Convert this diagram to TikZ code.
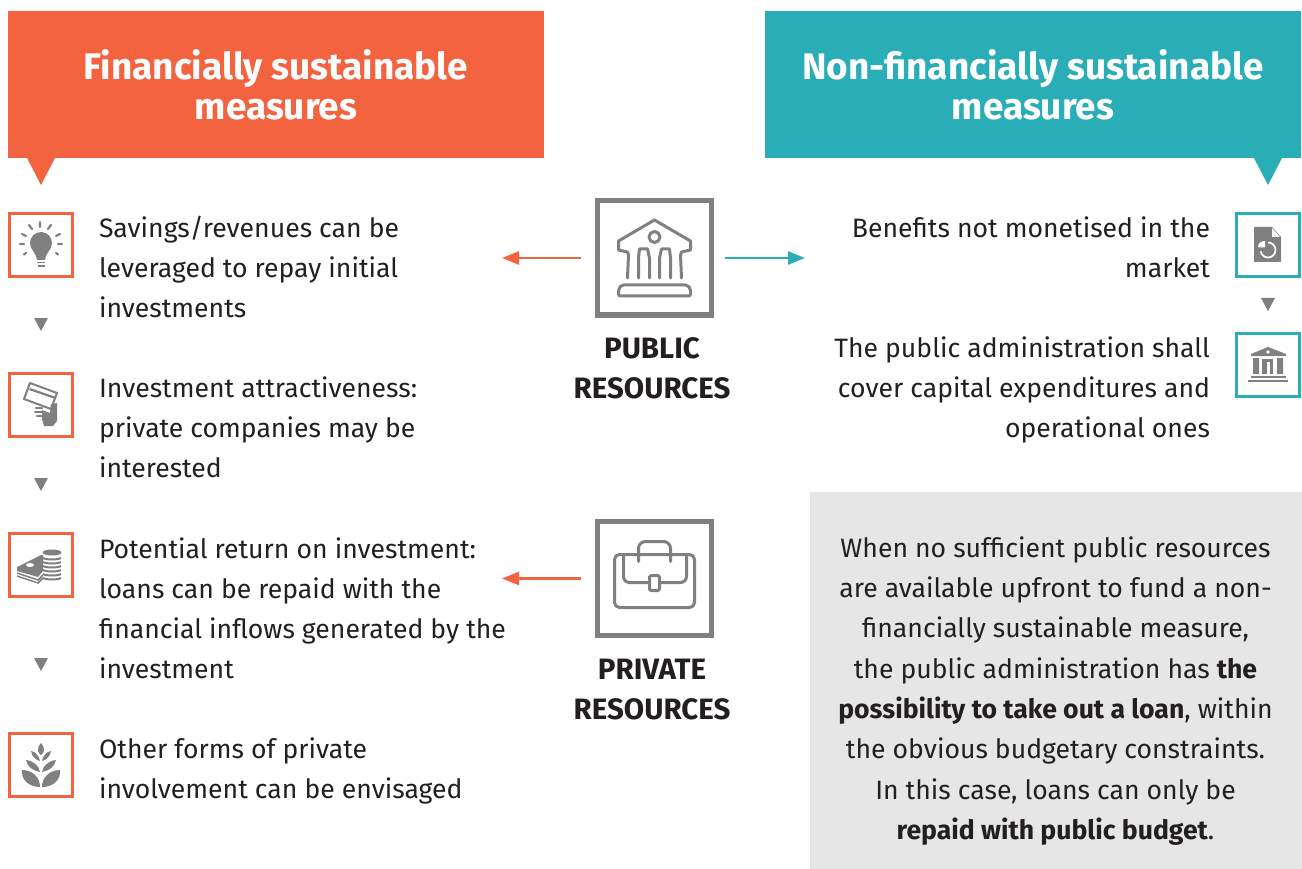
\documentclass[tikz,border=0pt]{standalone}
\usepackage{fontspec}
\setmainfont{Fira Sans}
\usetikzlibrary{arrows.meta}
\definecolor{fincol}{HTML}{F4633F}
\definecolor{nonfincol}{HTML}{29ADB6}
\definecolor{iconcol}{HTML}{808080}
\definecolor{inkcol}{HTML}{231F20}
\definecolor{panelcol}{HTML}{E6E6E6}
\tikzset{
	head/.style={minimum width=536pt, minimum height=147pt, inner sep=0pt, outer sep=0pt, text=white, align=center, font=\fontsize{37}{40}\selectfont\bfseries},
	body/.style={inner sep=0pt, outer sep=0pt, text=inkcol, font=\fontsize{26.6}{40}\selectfont},
	tile/.style={draw, line width=3pt, minimum size=63pt, inner sep=0pt, outer sep=0pt},
	bigtile/.style={draw=iconcol, line width=5pt, minimum size=114pt, inner sep=0pt, outer sep=0pt},
	reslabel/.style={inner sep=0pt, outer sep=0pt, text=inkcol, anchor=north, align=center, font=\fontsize{29.5}{40}\selectfont\bfseries},
	outline/.style={draw=iconcol, line width=3pt, line join=round, line cap=round},
	link/.style={line width=2.5pt, arrows={-{Triangle[length=17pt,width=13pt]}}, shorten <=16.5pt},
}

\begin{document}
\begin{tikzpicture}[x=1pt, y=-1pt]
	\useasboundingbox (0,0) rectangle (1302,869);

	\node[head, fill=fincol, anchor=north west] (finhead) at (8,11) {Financially sustainable\\measures};
	\node[head, fill=nonfincol, anchor=north west] (nonfinhead) at (765,11) {Non-financially sustainable\\measures};
	\fill[fincol] (27,158) -- (55,158) -- (41,185) -- cycle;
	\fill[nonfincol] (1254,158) -- (1282,158) -- (1268,185) -- cycle;

	% left column
	\node[tile, draw=fincol] (bulbtile) at (41,245) {};
	\node[tile, draw=fincol] (cardtile) at (41,405) {};
	\node[tile, draw=fincol] (cointile) at (41,565) {};
	\node[tile, draw=fincol] (planttile) at (41,765) {};
	\node[body, anchor=north west, align=left] (savings) at (99,216.5) {Savings/revenues can be\\leveraged to repay initial\\investments};
	\node[body, anchor=north west, align=left] (attract) at (99,376.5) {Investment attractiveness:\\private companies may be\\interested};
	\node[body, anchor=north west, align=left] (return) at (99,537.5) {Potential return on investment:\\loans can be repaid with the\\financial inflows generated by the\\investment};
	\node[body, anchor=north west, align=left] (other) at (99,737.5) {Other forms of private\\involvement can be envisaged};
	\fill[iconcol] (34,318) -- (48,318) -- (41,331) -- cycle;
	\fill[iconcol] (34,478) -- (48,478) -- (41,491) -- cycle;
	\fill[iconcol] (34,658) -- (48,658) -- (41,671) -- cycle;

	% right column
	\node[tile, draw=nonfincol] (doctile) at (1268,245) {};
	\node[tile, draw=nonfincol] (banktile) at (1268,365) {};
	\node[body, anchor=north east, align=right] (benefits) at (1210,216.5) {Benefits not monetised in the\\market};
	\node[body, anchor=north east, align=right] (admin) at (1210,336.5) {The public administration shall\\cover capital expenditures and\\operational ones};
	\fill[iconcol] (1261,298) -- (1275,298) -- (1268,311) -- cycle;

	% centre
	\node[bigtile] (pubtile) at (654.5,258) {};
	\node[bigtile] (privtile) at (654.5,578.5) {};
	\node[reslabel] (publab) at (652,338) {PUBLIC\\RESOURCES};
	\node[reslabel] (privlab) at (652,659) {PRIVATE\\RESOURCES};
	\coordinate (pubfin) at (502,258);
	\coordinate (pubnon) at (805,258);
	\coordinate (privfin) at (502,578.5);
	\draw[link, color=fincol] (pubtile.west) -- (pubfin);
	\draw[link, color=nonfincol, shorten <=13.5pt] (pubtile.east) -- (pubnon);
	\draw[link, color=fincol] (privtile.west) -- (privfin);

	% grey panel
	\node[fill=panelcol, minimum width=492pt, minimum height=377pt, inner sep=0pt, outer sep=0pt, anchor=north west] (panel) at (810,492) {};
	\node[body, align=center, font=\fontsize{26.6}{40.3}\selectfont] (paneltext) at (1055.5,691) {When no sufficient public resources\\are available upfront to fund a non-\\financially sustainable measure,\\the public administration has \textbf{the}\\\textbf{possibility to take out a loan}, within\\the obvious budgetary constraints.\\In this case, loans can only be\\\textbf{repaid with public budget}.};

	% bulb
	\begin{scope}[shift={(41,245)}]
		\fill[iconcol] (-4,15) .. controls (-5,7) and (-11,5) .. (-11,-2) .. controls (-11,-8) and (-6,-13) .. (0,-13) .. controls (6,-13) and (11,-8) .. (11,-2) .. controls (11,5) and (5,7) .. (4,15) -- cycle;
		\draw[iconcol, line width=1.5pt] (-4,17.5) -- (4,17.5) (-3.5,21) -- (3.5,21);
		\draw[iconcol, line width=2.2pt, line cap=round] (-1,-23) -- (-1,-18) (-12,-20) -- (-9,-16) (10,-20) -- (7,-16) (-19,-11) -- (-15,-9) (19,-11) -- (15,-9) (-21,-1) -- (-17,-1) (21,-1) -- (17,-1) (-17,9.5) -- (-15,8) (17,9.5) -- (15,8);
	\end{scope}

	% card and hand
	\begin{scope}[shift={(41,405)}]
		\draw[iconcol, line width=2pt, line join=round] (-11,-22) -- (16,-12) -- (10,4) -- (-17,-6) -- cycle;
		\fill[iconcol] (-11,-17) -- (15,-8) -- (14,-6) -- (-12,-15) -- cycle;
		\fill[iconcol] (1,5) -- (9,8) -- (10,-1) -- (16,-2) -- (16,16) -- (12,21) -- (3,21) -- (1,14) -- cycle;
		\draw[iconcol, line width=2.5pt, line cap=round] (-5,3) -- (1,3) (-6,7) -- (1,7) (-4,11) -- (1,11);
	\end{scope}

	% coins and notes
	\begin{scope}[shift={(41,565)}]
		\fill[iconcol] (-24,2) -- (0,-10) -- (2,-10) -- (2,6) -- (-3,12) -- (-24,6) -- cycle;
		\fill[white] (-11,0) ellipse (4pt and 2pt);
		\draw[iconcol, line width=1.5pt] (-24,8) -- (-3,15) -- (2,10) (-24,11) -- (-3,18) -- (2,13);
		\fill[iconcol] (11,-12.5) ellipse (9.5pt and 3pt);
		\foreach \stripe in {-7,-3,1,5,9,13} {
			\draw[iconcol, line width=2pt] (2,\stripe) .. controls (5,\stripe+2) and (17,\stripe+2) .. (20,\stripe);
		}
	\end{scope}

	% plant
	\begin{scope}[shift={(41,765)}]
		\fill[iconcol] (0,-22) .. controls (-5,-16) and (-3,-12) .. (0,-10) .. controls (3,-12) and (5,-16) .. (0,-22) -- cycle;
		\fill[iconcol] (-10,-14) .. controls (-9,-8) and (-5,-5) .. (-1,-4) .. controls (-2,-9) and (-5,-13) .. (-10,-14) -- cycle;
		\fill[iconcol] (10,-14) .. controls (9,-8) and (5,-5) .. (1,-4) .. controls (2,-9) and (5,-13) .. (10,-14) -- cycle;
		\fill[iconcol] (-15,-5) .. controls (-14,2) and (-7,6) .. (-1,7) .. controls (-2,1) and (-7,-4) .. (-15,-5) -- cycle;
		\fill[iconcol] (15,-5) .. controls (14,2) and (7,6) .. (1,7) .. controls (2,1) and (7,-4) .. (15,-5) -- cycle;
		\fill[iconcol] (-19,5) .. controls (-20,14) and (-13,22) .. (-1,22) .. controls (-1,13) and (-8,5) .. (-19,5) -- cycle;
		\fill[iconcol] (19,5) .. controls (20,14) and (13,22) .. (1,22) .. controls (1,13) and (8,5) .. (19,5) -- cycle;
	\end{scope}

	% document with chart
	\begin{scope}[shift={(1268,245)}]
		\fill[iconcol] (-14,-18) -- (4,-18) -- (13,-8) -- (13,17) -- (-14,17) -- cycle;
		\fill[white] (4,-17) -- (12,-8) -- (4,-8) -- cycle;
		\draw[white, line width=1.7pt] (0,-2.5) arc (90:-170:7.5pt);
		\fill[white] (-10,2.5) -- (-3,2.5) -- (-3,-4) .. controls (-7,-4) and (-10,-2) .. (-10,2.5) -- cycle;
	\end{scope}

	% small bank
	\begin{scope}[shift={(1268,365)}]
		\fill[iconcol] (-17,-11) -- (0,-18) -- (18,-11) -- (18,-9) -- (-17,-9) -- cycle;
		\fill[white] (0,-13) circle (1.8pt);
		\fill[iconcol] (-15,-7) rectangle (-9,9) (9,-7) rectangle (15,9);
		\fill[iconcol] (-6,-6) rectangle (5,9);
		\fill[white] (-1.5,-3) rectangle (1.5,9);
		\fill[iconcol] (-17,10.5) rectangle (18,12.5);
		\fill[iconcol] (-20,15) rectangle (20,17);
	\end{scope}

	% big bank
	\begin{scope}[shift={(654.5,258)}]
		\draw[outline] (-27,20) -- (-26,-3) -- (-27,-6) -- (-36,-8) -- (-36,-17) -- (0,-38) -- (36,-17) -- (36,-8) -- (27,-6) -- (26,-3) -- (27,20);
		\draw[outline] (0,-21) circle (5.5pt);
		\draw[outline] (-16,20) -- (-16,0) -- (-15,-9) -- (-7,-9) -- (-5,0) -- (-5,20);
		\draw[outline] (16,20) -- (16,0) -- (15,-9) -- (7,-9) -- (5,0) -- (5,20);
		\draw[outline, rounded corners=2pt] (-36,38) -- (-36,31) -- (-33,27) -- (33,27) -- (36,31) -- (36,38) -- cycle;
	\end{scope}

	% briefcase
	\begin{scope}[shift={(654.5,578.5)}]
		\draw[outline, rounded corners=5pt] (-40,-24) rectangle (40,29);
		\draw[outline, rounded corners=6pt] (-31,-24) -- (-31,4) -- (-5,4);
		\draw[outline, rounded corners=6pt] (32,-24) -- (32,4) -- (5,4);
		\draw[outline, rounded corners=1.5pt] (-5,-3) rectangle (5,12);
		\draw[outline, rounded corners=7pt] (-16,-17) -- (-16,-37) -- (16,-37) -- (16,-17);
	\end{scope}
\end{tikzpicture}
\end{document}
